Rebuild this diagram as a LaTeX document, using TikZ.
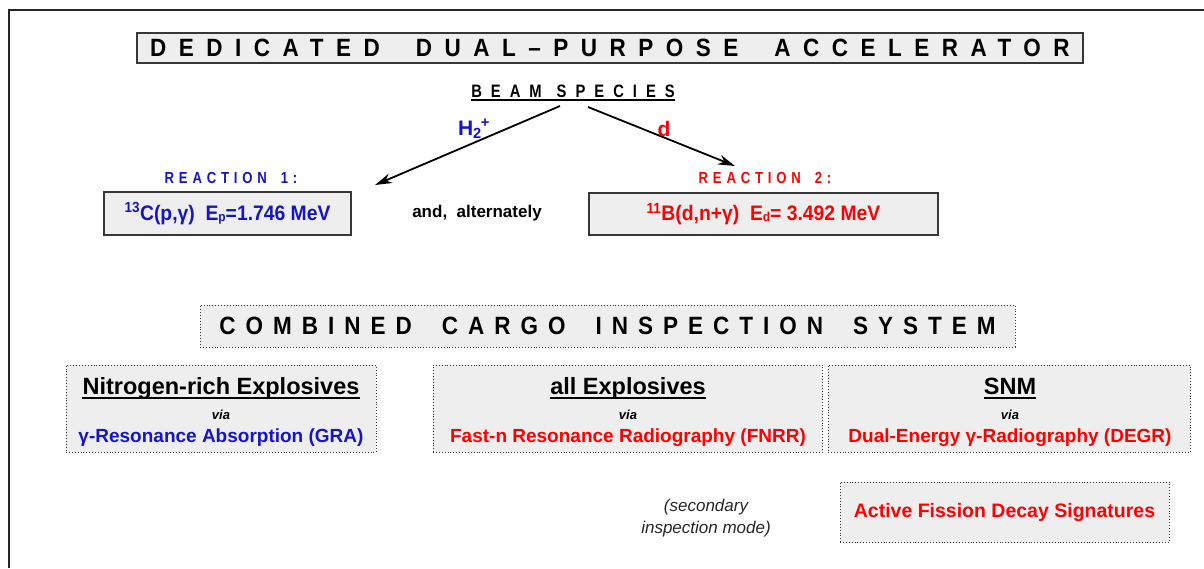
\documentclass[tikz,border=0pt]{standalone}
\usepackage{fontspec}
\setmainfont{Liberation Sans}
\newfontfamily\narrowfont{Liberation Sans}[FakeStretch=0.82]
\newfontfamily\capsfont{Liberation Sans}[FakeStretch=0.9]
\newfontfamily\tightfont{Liberation Sans}[FakeStretch=0.92]
\usetikzlibrary{arrows.meta,positioning}

\definecolor{rxblue}{RGB}{20,20,200}
\definecolor{rxred}{RGB}{255,0,0}
\definecolor{boxgray}{RGB}{238,238,238}
\definecolor{edgegray}{RGB}{55,55,55}

% letter-spaced capitals: size, spacing, text
\newcommand{\spacedtext}[3]{{\narrowfont\bfseries\fontsize{#1}{#1}\selectfont\addfontfeature{LetterSpace=#2}#3}}
\newcommand{\bigspaced}[3]{{\capsfont\bfseries\fontsize{#1}{#1}\selectfont\addfontfeature{LetterSpace=#2}#3}}

\tikzset{
  solidbox/.style={draw=edgegray, line width=1.8pt, fill=boxgray, inner sep=0pt},
  dotbox/.style={draw=edgegray, dotted, line width=0.9pt, fill=boxgray, inner sep=0pt},
  beamarrow/.style={line width=1.8pt, -{Stealth[length=17pt,width=10pt]}},
  uline/.style={line width=2.2pt},
  headtext/.style={font=\bfseries\fontsize{23.5}{23.5}\selectfont, inner sep=0pt, anchor=base},
  viatext/.style={font=\bfseries\itshape\fontsize{13}{13}\selectfont, inner sep=0pt},
  subtext/.style={font=\bfseries\fontsize{19}{19}\selectfont, inner sep=0pt},
}

\begin{document}
\begin{tikzpicture}[x=1pt,y=-1pt]
    \useasboundingbox (0,0) rectangle (1204,568);
    % outer frame
    \draw[line width=2pt, black!85] (9,568) -- (9,10) -- (1204,10);

    % accelerator and beam species
    \node[solidbox, minimum width=946, minimum height=30] (accel) at (610,48)
        {\bigspaced{25}{50}{DEDICATED\hspace{36pt}DUAL–PURPOSE\hspace{36pt}ACCELERATOR}};
    \node[inner sep=0pt, anchor=base] (beam) at (573,97) {\spacedtext{18}{50}{BEAM\hspace{15pt}SPECIES}};
    \draw[uline] ([yshift=-3pt]beam.base west) -- ([yshift=-3pt]beam.base east);

    \coordinate (r1tip) at (375,185);
    \coordinate (r2tip) at (735,166);
    \draw[beamarrow] ([xshift=-13pt,yshift=-9pt]beam.base) -- (r1tip);
    \draw[beamarrow] ([xshift=15pt,yshift=-10pt]beam.base) -- (r2tip);
    \node[text=rxblue, font=\bfseries\fontsize{21}{21}\selectfont] (h2) at (474,129)
        {H\textsubscript{2}\kern-1pt\textsuperscript{+}};
    \node[text=rxred, font=\bfseries\fontsize{21}{21}\selectfont] (dlab) at (664,129) {d};

    % the two reactions
    \node[text=rxblue] (r1lab) at (231,178) {\spacedtext{16}{30}{REACTION\hspace{14pt}1:}};
    \node[text=rxred] (r2lab) at (765,178) {\spacedtext{16}{30}{REACTION\hspace{14pt}2:}};
    \node[solidbox, minimum width=247, minimum height=43, text=rxblue,
          font=\tightfont\bfseries\fontsize{21}{21}\selectfont] (rx1) at (227.5,213.5)
        {\textsuperscript{13}C(p,γ)\ \ E\raisebox{-1pt}{\fontsize{13}{13}\selectfont p}=1.746 MeV};
    \node[solidbox, minimum width=349, minimum height=42, text=rxred,
          font=\tightfont\bfseries\fontsize{21}{21}\selectfont] (rx2) at (763.5,214)
        {\textsuperscript{11}B(d,n+γ)\ \ E\raisebox{-1pt}{\fontsize{13}{13}\selectfont d}= 3.492 MeV};
    \node[font=\bfseries\fontsize{17}{17}\selectfont] (alt) at (477,213) {and,\ \ alternately};

    % inspection system
    \node[dotbox, minimum width=815, minimum height=42] (ccis) at (607.5,326)
        {\bigspaced{25}{40}{COMBINED\hspace{30pt}CARGO\hspace{30pt}INSPECTION\hspace{30pt}SYSTEM}};

    \node[dotbox, minimum width=310, minimum height=87] (gra) at (221,408.5) {};
    \node[dotbox, minimum width=389, minimum height=87] (fnrr) at (627.5,408.5) {};
    \node[dotbox, minimum width=362, minimum height=87] (degr) at (1009,408.5) {};

    \node[headtext] (graH) at (221,394) {Nitrogen-rich Explosives};
    \node[viatext] (graV) at (221,415) {via};
    \node[subtext, text=rxblue] (graS) at (221,438) {γ-Resonance Absorption (GRA)};

    \node[headtext] (fnrrH) at (628,394) {all Explosives};
    \node[viatext] (fnrrV) at (628,415) {via};
    \node[subtext, text=rxred] (fnrrS) at (628,438) {Fast-n Resonance Radiography (FNRR)};

    \node[headtext] (degrH) at (1010,394) {SNM};
    \node[viatext] (degrV) at (1010,415) {via};
    \node[subtext, text=rxred] (degrS) at (1010,438) {Dual-Energy γ-Radiography (DEGR)};

    \foreach \h in {graH,fnrrH,degrH}
        \draw[uline] ([yshift=-4pt]\h.base west) -- ([yshift=-4pt]\h.base east);

    \node[align=center, text=black!85, font=\itshape\fontsize{17}{22}\selectfont] (second) at (706,518)
        {(secondary\\inspection mode)};
    \node[dotbox, minimum width=329, minimum height=60, text=rxred,
          font=\bfseries\fontsize{19.5}{19.5}\selectfont] (afds) at (1004.5,512) {Active Fission Decay Signatures};
\end{tikzpicture}
\end{document}
